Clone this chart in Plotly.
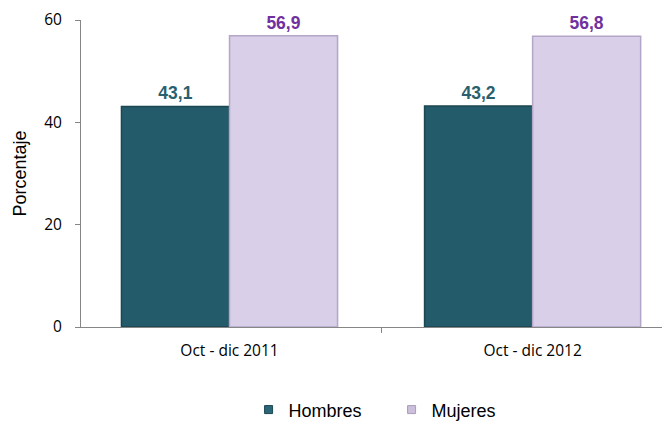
import plotly.graph_objects as go

categories = ["Oct - dic 2011", "Oct - dic 2012"]
hombres = [43.1, 43.2]
mujeres = [56.9, 56.8]
hombres_labels = ["43,1", "43,2"]
mujeres_labels = ["56,9", "56,8"]
y_ticks = [0, 20, 40, 60]

xpos = list(range(len(categories)))

H_COLOR, H_LINE, H_TEXT = "#245b6a", "#1b4652", "#2a5f6e"
M_COLOR, M_LINE, M_TEXT = "#d9cfe8", "#b3a6c6", "#7030a0"

fig = go.Figure()
fig.add_trace(go.Bar(
    x=xpos, y=hombres, name="Hombres", showlegend=False,
    marker=dict(color=H_COLOR, line=dict(color=H_LINE, width=1.5)),
    text=hombres_labels, textposition="outside",
    textfont=dict(family="Liberation Sans, Arial", size=17.5, color=H_TEXT, weight="bold"),
    cliponaxis=False,
))
fig.add_trace(go.Bar(
    x=xpos, y=mujeres, name="Mujeres", showlegend=False,
    marker=dict(color=M_COLOR, line=dict(color=M_LINE, width=1.5)),
    text=mujeres_labels, textposition="outside",
    textfont=dict(family="Liberation Sans, Arial", size=17.5, color=M_TEXT, weight="bold"),
    cliponaxis=False,
))
# legend-only entries with small square swatches
for name, col, lc in [("Hombres", "#2a6677", "#1b4652"), ("Mujeres", "#cbbfdc", "#a99cbc")]:
    fig.add_trace(go.Scatter(
        x=[None], y=[None], mode="markers", name=name,
        marker=dict(symbol="square", size=8, color=col, line=dict(color=lc, width=1)),
    ))

fig.update_layout(
    width=662, height=414,
    margin=dict(l=73, r=1, t=12, b=95, autoexpand=False),
    paper_bgcolor="white", plot_bgcolor="white",
    barmode="group", bargap=0.287, bargroupgap=0,
    font=dict(family="Liberation Sans, Arial", size=13, color="#000000"),
    showlegend=True,
    legend=dict(orientation="h", x=0.285, xanchor="left", y=-0.27, yanchor="middle",
                font=dict(size=18, family="Liberation Sans, Arial"),
                itemwidth=30, entrywidth=98, entrywidthmode="pixels", tracegroupgap=0),
    xaxis=dict(
        range=[-0.49, 1.45], tickvals=xpos, ticktext=categories,
        showline=True, linecolor="#868686", linewidth=1,
        ticks="", showgrid=False, zeroline=False, automargin=False,
        ticklabelstandoff=9,
        tickfont=dict(family="Open Sans, Liberation Sans", size=15.5),
        minor=dict(tickvals=[-0.5, 0.5, 1.5], ticks="outside", ticklen=5, tickcolor="#868686", showgrid=False),
    ),
    yaxis=dict(
        range=[0, 60], tickvals=y_ticks,
        showline=True, linecolor="#868686", linewidth=1,
        ticks="outside", ticklen=5, tickcolor="#868686",
        showgrid=False, zeroline=False, automargin=False,
        ticklabelstandoff=10,
        tickfont=dict(family="Open Sans, Liberation Sans", size=15.5),
        title=dict(text="Porcentaje", font=dict(family="Liberation Sans, Arial", size=18), standoff=12),
    ),
)

fig.write_html("out.html")
